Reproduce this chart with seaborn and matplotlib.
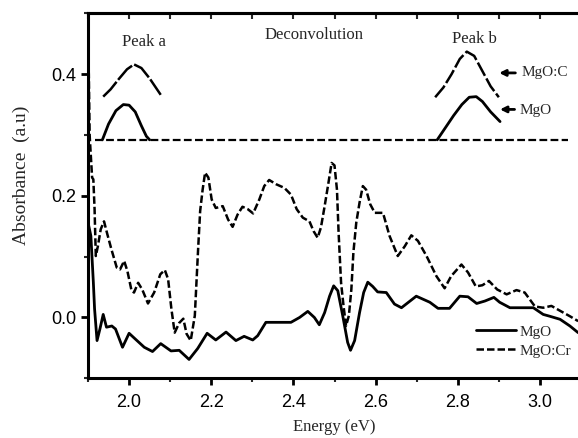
import numpy as np
import pandas as pd
import matplotlib
matplotlib.use('Agg')
import matplotlib.pyplot as plt
import seaborn as sns
from matplotlib.ticker import MultipleLocator

# main spectra
mgo_x = [1.900, 1.902, 1.907, 1.913, 1.916, 1.922, 1.929, 1.937, 1.945, 1.958, 1.967, 1.984,
         2.000, 2.016, 2.037, 2.057, 2.077, 2.102, 2.122, 2.146, 2.167, 2.190, 2.211, 2.236,
         2.260, 2.280, 2.301, 2.313, 2.333, 2.394, 2.415, 2.435, 2.451, 2.463, 2.476, 2.488,
         2.498, 2.508, 2.520, 2.532, 2.539, 2.549, 2.561, 2.571, 2.581, 2.593, 2.605, 2.626,
         2.646, 2.663, 2.699, 2.732, 2.752, 2.780, 2.805, 2.825, 2.846, 2.866, 2.888, 2.902,
         2.927, 2.984, 3.008, 3.024, 3.049, 3.073, 3.093]
mgo_y = [0.155, 0.150, 0.134, 0.058, 0.014, -0.038, -0.019, 0.005, -0.016, -0.014, -0.019, -0.049,
         -0.026, -0.036, -0.049, -0.056, -0.043, -0.055, -0.054, -0.069, -0.051, -0.026, -0.037, -0.024,
         -0.038, -0.031, -0.037, -0.030, -0.008, -0.008, 0.000, 0.010, 0.000, -0.012, 0.008, 0.035,
         0.052, 0.044, 0.003, -0.041, -0.054, -0.038, 0.008, 0.041, 0.058, 0.051, 0.042, 0.041,
         0.022, 0.016, 0.035, 0.025, 0.015, 0.015, 0.035, 0.034, 0.023, 0.027, 0.033, 0.025,
         0.016, 0.016, 0.005, 0.002, -0.003, -0.014, -0.025]

mgocr_x = [1.900, 1.902, 1.904, 1.906, 1.910, 1.913, 1.916, 1.919, 1.924, 1.931, 1.939, 1.947,
           1.957, 1.970, 1.978, 1.988, 1.996, 2.006, 2.012, 2.022, 2.032, 2.046, 2.061, 2.076,
           2.087, 2.095, 2.103, 2.111, 2.122, 2.132, 2.140, 2.150, 2.160, 2.168, 2.173, 2.179,
           2.185, 2.193, 2.201, 2.211, 2.228, 2.241, 2.252, 2.264, 2.276, 2.289, 2.302, 2.317,
           2.329, 2.341, 2.358, 2.378, 2.394, 2.408, 2.423, 2.439, 2.449, 2.459, 2.467, 2.476,
           2.484, 2.493, 2.500, 2.506, 2.510, 2.516, 2.522, 2.528, 2.535, 2.541, 2.546, 2.553,
           2.561, 2.569, 2.577, 2.587, 2.598, 2.618, 2.634, 2.654, 2.671, 2.687, 2.703, 2.724,
           2.748, 2.768, 2.784, 2.809, 2.825, 2.844, 2.860, 2.876, 2.896, 2.919, 2.943, 2.963,
           2.988, 3.008, 3.028, 3.049, 3.073, 3.093]
mgocr_y = [0.440, 0.400, 0.300, 0.276, 0.230, 0.227, 0.178, 0.101, 0.117, 0.145, 0.158, 0.137,
           0.112, 0.082, 0.079, 0.093, 0.076, 0.044, 0.041, 0.057, 0.046, 0.023, 0.041, 0.071,
           0.078, 0.063, 0.014, -0.025, -0.009, -0.002, -0.027, -0.038, 0.003, 0.112, 0.175, 0.210,
           0.238, 0.230, 0.194, 0.180, 0.183, 0.161, 0.149, 0.169, 0.182, 0.178, 0.171, 0.194,
           0.216, 0.226, 0.219, 0.213, 0.202, 0.178, 0.164, 0.158, 0.142, 0.131, 0.148, 0.183,
           0.216, 0.254, 0.250, 0.210, 0.139, 0.057, 0.019, -0.014, 0.003, 0.046, 0.107, 0.156,
           0.189, 0.216, 0.210, 0.186, 0.172, 0.172, 0.134, 0.101, 0.117, 0.135, 0.126, 0.101,
           0.068, 0.048, 0.068, 0.087, 0.074, 0.051, 0.053, 0.060, 0.046, 0.038, 0.045, 0.041,
           0.018, 0.016, 0.019, 0.011, 0.002, -0.006]

# deconvolution inset
base_x = [1.918, 3.068]
base_y = [0.292, 0.292]
pa_c_x = [1.937, 1.955, 1.975, 1.995, 2.012, 2.030, 2.050, 2.065, 2.077]
pa_c_y = [0.363, 0.375, 0.392, 0.408, 0.416, 0.410, 0.393, 0.378, 0.366]
pa_m_x = [1.935, 1.950, 1.968, 1.986, 2.000, 2.015, 2.030, 2.042, 2.050]
pa_m_y = [0.292, 0.318, 0.340, 0.350, 0.349, 0.338, 0.315, 0.298, 0.292]
pb_c_x = [2.745, 2.765, 2.785, 2.805, 2.822, 2.840, 2.860, 2.880, 2.900]
pb_c_y = [0.362, 0.378, 0.400, 0.425, 0.437, 0.430, 0.405, 0.380, 0.362]
pb_m_x = [2.750, 2.770, 2.790, 2.810, 2.828, 2.845, 2.860, 2.880, 2.903]
pb_m_y = [0.292, 0.312, 0.332, 0.350, 0.362, 0.363, 0.355, 0.338, 0.322]

sns.set_style('ticks')
plt.rcParams['font.family'] = ['Liberation Sans', 'DejaVu Sans']
serif = ['Liberation Serif', 'DejaVu Serif']

W, H = 578, 438
fig = plt.figure(figsize=(W / 100, H / 100), dpi=100)
ax_l, ax_r, ax_t, ax_b = 88, 581, 13.3, 378.3
ax = fig.add_axes([ax_l / W, (H - ax_b) / H, (ax_r - ax_l) / W, (ax_b - ax_t) / H])

sns.lineplot(x=mgo_x, y=mgo_y, ax=ax, color='black', lw=2.0, label='MgO', sort=False)
sns.lineplot(x=mgocr_x, y=mgocr_y, ax=ax, color='black', lw=1.8,
             linestyle=(0, (3.0, 1.2)), label='MgO:Cr', sort=False)

sns.lineplot(x=base_x, y=base_y, ax=ax, color='black', lw=1.6, linestyle=(0, (3.5, 1.5)))
sns.lineplot(x=pa_c_x, y=pa_c_y, ax=ax, color='black', lw=1.8, linestyle=(0, (8, 1)))
sns.lineplot(x=pa_m_x, y=pa_m_y, ax=ax, color='black', lw=2.0)
sns.lineplot(x=pb_c_x, y=pb_c_y, ax=ax, color='black', lw=1.8, linestyle=(0, (6, 1.2)))
sns.lineplot(x=pb_m_x, y=pb_m_y, ax=ax, color='black', lw=2.0)

ax.text(2.036, 0.452, 'Peak a', family=serif, fontsize=12, ha='center', va='center')
ax.text(2.45, 0.464, 'Deconvolution', family=serif, fontsize=12, ha='center', va='center')
ax.text(2.84, 0.458, 'Peak b', family=serif, fontsize=12, ha='center', va='center')
ax.annotate('', xy=(2.894, 0.402), xytext=(2.947, 0.402),
            arrowprops=dict(arrowstyle='-|>', color='black', lw=2, mutation_scale=9))
ax.text(2.955, 0.402, 'MgO:C', family=serif, fontsize=11, ha='left', va='center')
ax.annotate('', xy=(2.896, 0.342), xytext=(2.945, 0.342),
            arrowprops=dict(arrowstyle='-|>', color='black', lw=2, mutation_scale=9))
ax.text(2.95, 0.340, 'MgO', family=serif, fontsize=11, ha='left', va='center')

ax.set_xlim(1.9, 3.1)
ax.set_ylim(-0.1, 0.5)
ax.xaxis.set_major_locator(MultipleLocator(0.2))
ax.xaxis.set_minor_locator(MultipleLocator(0.1))
ax.yaxis.set_major_locator(MultipleLocator(0.2))
ax.yaxis.set_minor_locator(MultipleLocator(0.1))
ax.tick_params(which='major', direction='out', length=5, width=2, labelsize=13, colors='black')
ax.tick_params(which='minor', direction='out', length=3, width=1.5)
ax.tick_params(axis='x', pad=6)

top = ax.secondary_xaxis('top')
top.xaxis.set_major_locator(MultipleLocator(0.1))
top.tick_params(direction='in', length=4, width=1.5, labeltop=False)

for s in ['left', 'bottom', 'top']:
    ax.spines[s].set_visible(True)
    ax.spines[s].set_linewidth(2.2)
    ax.spines[s].set_color('black')
top.spines['top'].set_linewidth(2.2)
ax.spines['right'].set_visible(False)

ax.set_xlabel('Energy (eV)', family=serif, fontsize=12)
ax.xaxis.set_label_coords(0.5, -0.112)
ax.set_ylabel('Absorbance  (a.u)', family=serif, fontsize=14)
ax.yaxis.set_label_coords(-0.118, 0.557)

ax.legend(loc='upper left', bbox_to_anchor=(2.826, 0.0), bbox_transform=ax.transData,
          frameon=False, prop={'family': serif, 'size': 11}, handlelength=2.6,
          handletextpad=0.25, labelspacing=0.35, borderpad=0)

fig.savefig('out.png', dpi=100)
